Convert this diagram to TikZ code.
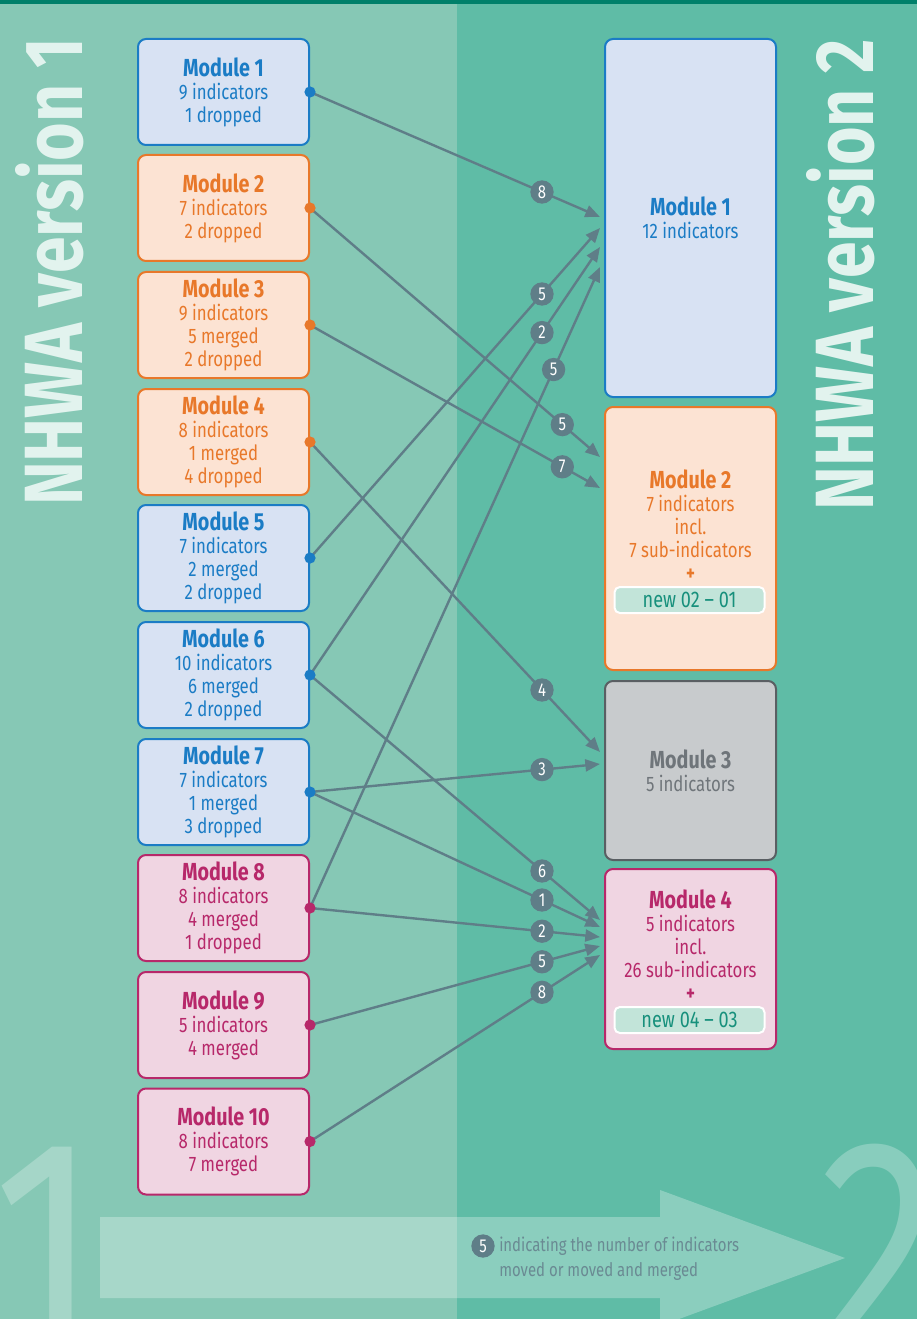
\documentclass[tikz,border=0pt]{standalone}
\usepackage{fontspec}
\setmainfont{Fira Sans}[FakeStretch=0.8]
\usetikzlibrary{arrows.meta,positioning}

\definecolor{bgleft}{HTML}{86C8B5}
\definecolor{bgright}{HTML}{5FBCA6}
\definecolor{topbar}{HTML}{00806A}
\definecolor{bluefill}{HTML}{D8E2F3}
\definecolor{blueline}{HTML}{1B7CC5}
\definecolor{orangefill}{HTML}{FCE3D3}
\definecolor{orangeline}{HTML}{E8782A}
\definecolor{pinkfill}{HTML}{F0D5E2}
\definecolor{pinkline}{HTML}{B7286A}
\definecolor{greyfill}{HTML}{C8CBCD}
\definecolor{greyline}{HTML}{5A5F63}
\definecolor{greytext}{HTML}{6F757A}
\definecolor{linkcol}{HTML}{5F7E88}
\definecolor{titlecol}{HTML}{E2F3EE}
\definecolor{newfill}{HTML}{C2E4D9}
\definecolor{newtext}{HTML}{17907C}
\definecolor{notecol}{HTML}{6A8A93}

\newcommand{\modname}[1]{{\fontsize{18.5}{18}\selectfont\bfseries #1}}

\tikzset{
  modbox/.style={draw, rounded corners=6pt, line width=1.5pt, minimum width=128.25pt,
    align=center, inner sep=0pt, font=\fontsize{15.75}{17.25}\selectfont},
  lbox/.style={modbox, minimum height=79.5pt},
  bluebox/.style={fill=bluefill, draw=blueline, text=blueline},
  orangebox/.style={fill=orangefill, draw=orangeline, text=orangeline},
  pinkbox/.style={fill=pinkfill, draw=pinkline, text=pinkline},
  greybox/.style={fill=greyfill, draw=greyline, text=greytext},
  modtext/.style={align=center, inner sep=0pt, font=\fontsize{15.75}{17.25}\selectfont},
  newtag/.style={fill=newfill, draw=white, line width=1.5pt, rounded corners=4pt,
    minimum width=112.5pt, minimum height=19.5pt, inner sep=0pt, text=newtext,
    font=\fontsize{17}{17}\selectfont},
  conn/.style={draw=linkcol, line width=1.8pt, -{Triangle[length=11pt,width=9pt]}},
  badge/.style={circle, fill=linkcol, text=white, inner sep=0pt, minimum size=17.5pt,
    font=\fontsize{14}{14}\selectfont},
  sidetitle/.style={text=titlecol, rotate=90, anchor=base, inner sep=0pt,
    font=\fontsize{62}{62}\selectfont\bfseries},
  bignum/.style={text=white, opacity=0.26, anchor=base, inner sep=0pt,
    font=\fontsize{228}{228}\selectfont}
}

\begin{document}
\begin{tikzpicture}[x=0.75pt,y=0.75pt,yscale=-1,xscale=1]
\useasboundingbox (0,0) rectangle (917,1319);

% background bands
\fill[bgright] (0,0) rectangle (917,1319);
\fill[bgleft] (0,0) rectangle (457,1319);
\fill[topbar] (0,0) rectangle (917,4);

% big 1 -> 2 arrow
\fill[white, opacity=0.28] (100,1217) -- (660,1217) -- (660,1190) -- (845,1258)
  -- (660,1326) -- (660,1298) -- (100,1298) -- cycle;
\node[bignum] (one) at (46,1350) {1};
\node[bignum] (two) at (880,1350) {2};

% side titles
\node[sidetitle] (ver1) at (82,272) {NHWA version 1};
\node[sidetitle] (ver2) at (873,275) {NHWA version 2};

% version 1 modules
\node[lbox, bluebox] (l1) at (223.5,92) {\modname{Module 1}\\9 indicators\\1 dropped};
\node[lbox, orangebox] (l2) at (223.5,208) {\modname{Module 2}\\7 indicators\\2 dropped};
\node[lbox, orangebox] (l3) at (223.5,325) {\modname{Module 3}\\9 indicators\\5 merged\\2 dropped};
\node[lbox, orangebox] (l4) at (223.5,442) {\modname{Module 4}\\8 indicators\\1 merged\\4 dropped};
\node[lbox, bluebox] (l5) at (223.5,558) {\modname{Module 5}\\7 indicators\\2 merged\\2 dropped};
\node[lbox, bluebox] (l6) at (223.5,675) {\modname{Module 6}\\10 indicators\\6 merged\\2 dropped};
\node[lbox, bluebox] (l7) at (223.5,792) {\modname{Module 7}\\7 indicators\\1 merged\\3 dropped};
\node[lbox, pinkbox] (l8) at (223.5,908) {\modname{Module 8}\\8 indicators\\4 merged\\1 dropped};
\node[lbox, pinkbox] (l9) at (223.5,1025) {\modname{Module 9}\\5 indicators\\4 merged};
\node[lbox, pinkbox] (l10) at (223.5,1141.5) {\modname{Module 10}\\8 indicators\\7 merged};

% version 2 modules
\node[modbox, bluebox, minimum height=268.5pt] (r1) at (690.5,218) {\modname{Module 1}\\12 indicators};
\node[modbox, orangebox, minimum height=197.25pt] (r2) at (690.5,538.5) {};
\node[modtext, text=orangeline] (r2txt) at (690.5,525.5) {\modname{Module 2}\\7 indicators\\incl.\\7 sub-indicators\\\textbf{+}};
\node[newtag] (new2) at (689.5,600) {new 02 -- 01};
\node[modbox, greybox, minimum height=134.25pt] (r3) at (690.5,770.5) {\modname{Module 3}\\5 indicators};
\node[modbox, pinkbox, minimum height=135pt] (r4) at (690.5,959) {};
\node[modtext, text=pinkline] (r4txt) at (690.5,945.5) {\modname{Module 4}\\5 indicators\\incl.\\26 sub-indicators\\\textbf{+}};
\node[newtag] (new4) at (689.5,1020) {new 04 -- 03};

% arrow ends on the version 2 side
\coordinate (in1a) at (600,217);
\coordinate (in1b) at (600,228);
\coordinate (in1c) at (600,247);
\coordinate (in1d) at (600,267);
\coordinate (in2a) at (600,457);
\coordinate (in2b) at (600,488);
\coordinate (in3a) at (600,752);
\coordinate (in3b) at (600,764);
\coordinate (in4a) at (600,920);
\coordinate (in4b) at (600,927);
\coordinate (in4c) at (600,937);
\coordinate (in4d) at (600,946);
\coordinate (in4e) at (600,955);

% connectors
\foreach \src/\dst/\p in {l1/in1a/0.8, l5/in1b/0.8, l6/in1c/0.8, l8/in1d/0.84,
    l2/in2a/0.87, l3/in2b/0.87, l4/in3a/0.8, l7/in3b/0.8, l6/in4a/0.8,
    l7/in4b/0.8, l8/in4c/0.8, l9/in4d/0.8, l10/in4e/0.8}
  \draw[conn] (\src.east) -- (\dst) coordinate[pos=\p] (b-\src-\dst);

% number badges
\foreach \src/\dst/\n in {l1/in1a/8, l5/in1b/5, l6/in1c/2, l8/in1d/5,
    l2/in2a/5, l3/in2b/7, l4/in3a/4, l7/in3b/3, l6/in4a/6,
    l7/in4b/1, l8/in4c/2, l9/in4d/5, l10/in4e/8}
  \node[badge] at (b-\src-\dst) {\n};

% dots on the version 1 boxes
\foreach \m/\c in {l1/blueline, l2/orangeline, l3/orangeline, l4/orangeline, l5/blueline,
    l6/blueline, l7/blueline, l8/pinkline, l9/pinkline, l10/pinkline}
  \fill[\c] (\m.east) circle (4.2pt);

% legend
\node[badge] (key) at (483,1246) {5};
\node[anchor=west, align=left, inner sep=0pt, text=notecol,
  font=\fontsize{14}{18.75}\selectfont] (keytxt) at (499,1258.5)
  {indicating the number of indicators\\moved or moved and merged};

\end{tikzpicture}
\end{document}
